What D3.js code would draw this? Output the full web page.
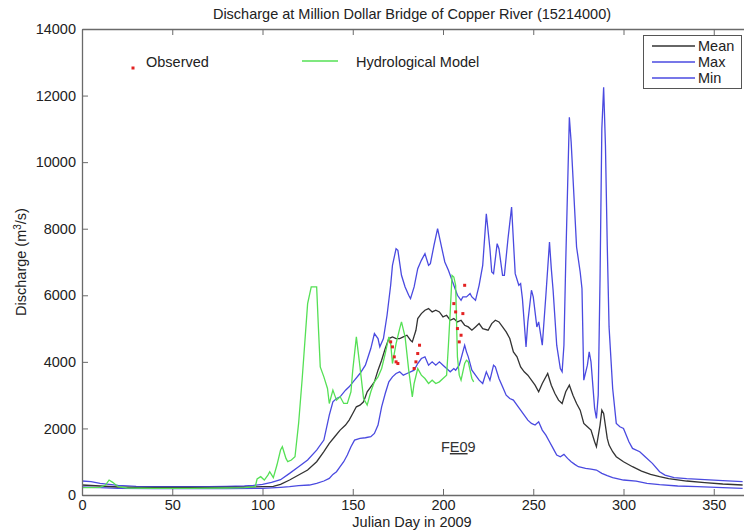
<!DOCTYPE html>
<html><head><meta charset="utf-8">
<script src="https://cdn.jsdelivr.net/npm/d3@7"></script>
<style>
body{margin:0;background:#fff;}
text{font-family:"Liberation Sans",Arial,sans-serif;}
</style></head>
<body>
<svg id="chart" width="744" height="531"></svg>
<script>
// ---- data ----
const xTicks = [0,50,100,150,200,250,300,350];
const yTicks = [0,2000,4000,6000,8000,10000,12000,14000];

const maxDays = [0,5,10,20,30,40,50,60,70,80,90,95,100,105,110,115,120,125,130,134,137,139,141,143,146,148,151,154,157,160,162,164,165,167,169,171,172,174,175,177,179,181,182,184,186,188,190,192,193,195,197,199,201,203,204,206,208,210,211,213,215,216,218,220,222,224,226,227,228,230,231,233,234,236,238,240,242,243,244,246,247,249,250,252,253,255,257,259,260,261,263,265,266,267,268,270,271,273,274,276,277,278,280,281,282,284,285,286,287,288,289,290,291,292,294,296,298,300,303,305,309,312,316,320,323,328,335,345,355,366];
const maxVals = [420,400,350,290,260,250,250,250,250,255,270,290,320,380,460,650,850,1050,1350,1650,2400,2800,2900,2950,3150,3250,3450,3650,3900,4400,4850,4700,4450,4700,5400,6300,6900,7400,7350,6600,6250,6000,5900,6250,6800,7050,7250,6900,6950,7500,8000,7500,7000,6750,6600,6300,6000,5850,5950,5950,6050,5950,5850,6300,6900,8450,7400,6700,6650,7550,7400,6600,6600,7700,8650,6650,6300,6350,5900,4450,5200,6150,5950,5050,5200,4500,6000,7600,6800,6150,4500,3800,3700,4500,7000,11350,10600,8500,7450,6700,6200,3450,3900,4300,4000,2600,2300,3000,6500,11000,12250,10500,7500,5050,3200,2150,2050,2000,1600,1400,1300,1150,950,700,600,520,490,460,430,400];

const meanDays = [0,10,20,30,50,70,90,100,106,110,115,120,125,130,134,137,140,143,146,148,150,152,154,156,158,160,162,164,166,168,170,172,174,176,178,180,182,183,185,186,188,190,192,194,196,198,200,202,204,206,208,210,212,214,216,218,220,222,225,227,229,231,233,235,237,239,241,243,245,247,249,251,253,255,258,260,262,264,266,268,270,272,274,276,278,280,282,284,285,287,288,289,291,292,294,296,300,305,310,315,320,325,335,345,355,366];
const meanVals = [300,270,240,230,225,225,235,250,260,320,450,600,750,1000,1300,1550,1750,1950,2100,2250,2450,2650,2700,2800,3100,3250,3400,3750,4050,4400,4700,4750,4700,4700,4750,4800,4650,4600,4950,5300,5450,5550,5600,5500,5550,5500,5350,5400,5250,5300,5200,5250,5100,5050,4950,5050,5150,5000,4950,5150,5250,5200,5050,4900,4700,4300,4150,3850,3700,3600,3450,3300,3100,3350,3650,3300,3050,2850,2750,3100,3300,3000,2750,2550,2150,2050,1950,1600,1450,2100,2550,2450,1700,1500,1300,1150,1000,850,720,620,550,490,420,370,330,300];

const minDays = [0,10,20,40,60,80,100,110,115,120,126,130,134,137,139,141,143,145,147,149,151,154,157,160,162,164,166,168,170,172,174,176,178,180,182,184,186,188,190,192,194,196,198,200,202,204,206,207,209,211,212,213,214,216,218,220,222,224,226,228,229,231,233,235,237,239,241,243,245,247,249,251,253,255,257,259,261,263,265,267,269,271,273,275,279,282,285,288,291,294,300,307,313,320,330,341,355,366];
const minVals = [240,220,200,190,190,195,200,230,250,280,300,350,420,500,620,700,850,1000,1200,1450,1650,1700,1720,1750,1850,2100,2650,3050,3400,3550,3650,3700,3600,3650,3700,3750,3950,4100,4150,3900,4000,3900,4000,3900,3800,3700,3800,3750,3900,4300,4500,4300,4150,3750,3600,3450,3350,3700,3450,3900,3850,3500,3250,3000,2900,2850,2700,2550,2400,2250,2150,2100,2200,1950,1800,1600,1400,1200,1150,1220,1100,1000,920,850,800,780,750,650,580,520,450,420,350,310,270,250,220,200];

const modelDays = [0,5,10,13,15,17,20,25,40,60,80,90,96,97,99,101,103,104,106,108,110,111,113,114,116,118,120,122,123,125,127,130,131,132,134,136,137,139,141,143,145,147,149,150,152,153,154,156,158,160,162,164,166,168,170,171,172,174,176,177,179,181,183,184,186,188,190,192,194,196,198,200,202,203,204,205,206,207,208,209,210,211,212,213,214,215,216,217];
const modelVals = [220,220,230,300,450,380,250,210,200,200,210,220,250,480,550,450,600,700,520,900,1350,1450,1100,1000,1050,1150,2150,3500,4250,5750,6250,6250,5000,3850,3550,3200,2750,3150,2850,2950,2750,2750,3100,3750,4750,4300,3850,2900,2700,3100,3400,3550,3800,4250,4750,4550,3950,4550,5000,5200,4750,3750,2950,3350,3800,3600,3500,3350,3450,3350,3400,3500,3600,4500,5500,6600,6550,6300,4150,3600,3450,3700,3950,4050,4000,3750,3500,3400];

const obsDays = [171,172,173,174,175,184,185,186,187,206,207,208,209,210,211,212];
const obsVals = [4600,4450,4150,4000,3950,3800,4000,4250,4500,5750,5500,5000,4600,4800,5450,6300];

// ---- layout ----
const svg = d3.select("#chart");
const X0 = 82, X1 = 82 + 370*1.805, Y0 = 495, Y1 = 29;
const x = d3.scaleLinear().domain([0,370]).range([X0,X1]);
const y = d3.scaleLinear().domain([0,14000]).range([Y0,Y1]);
const axisCol = "#6a6a6a";
const blue = "#4a4ae0", green = "#55e055", meanCol = "#333333", red = "#e32222";
const FS = "14.5px";

const pairs = (d,v) => d.map((dd,i)=>[dd,v[i]]);
const line = d3.line().x(d=>x(d[0])).y(d=>y(d[1]));

const g = svg.append("g");
g.append("path").datum(pairs(minDays,minVals)).attr("d",line).attr("fill","none").attr("stroke",blue).attr("stroke-width",1.3);
g.append("path").datum(pairs(maxDays,maxVals)).attr("d",line).attr("fill","none").attr("stroke",blue).attr("stroke-width",1.3);
g.append("path").datum(pairs(meanDays,meanVals)).attr("d",line).attr("fill","none").attr("stroke",meanCol).attr("stroke-width",1.3);
g.append("path").datum(pairs(modelDays,modelVals)).attr("d",line).attr("fill","none").attr("stroke",green).attr("stroke-width",1.3);
g.selectAll("rect.obs").data(pairs(obsDays,obsVals)).enter().append("rect").attr("class","obs")
  .attr("x",d=>x(d[0])-1.5).attr("y",d=>y(d[1])-1.5).attr("width",3).attr("height",3).attr("fill",red);

// axes
const axB = svg.append("g").attr("transform",`translate(0,${Y0})`)
  .call(d3.axisBottom(x).tickValues(xTicks).tickSizeInner(-6).tickSizeOuter(0).tickPadding(5));
const axL = svg.append("g").attr("transform",`translate(${X0},0)`)
  .call(d3.axisLeft(y).tickValues(yTicks).tickSizeInner(-6).tickSizeOuter(0).tickPadding(6).tickFormat(d3.format("d")));
const axT = svg.append("g").attr("transform",`translate(0,${Y1})`)
  .call(d3.axisTop(x).tickValues(xTicks).tickSizeInner(-6).tickSizeOuter(0).tickFormat(""));
[axB,axL,axT].forEach(a=>{
  a.selectAll("path.domain").attr("stroke",axisCol).attr("stroke-width",1.3);
  a.selectAll(".tick line").attr("stroke",axisCol);
  a.selectAll(".tick text").attr("fill","#222").style("font-size",FS).style("font-family","Liberation Sans, Arial, sans-serif");
});

// titles
svg.append("text").attr("x",412).attr("y",19).attr("text-anchor","middle").attr("fill","#222").style("font-size",FS)
  .text("Discharge at Million Dollar Bridge of Copper River (15214000)");
svg.append("text").attr("x",412).attr("y",527).attr("text-anchor","middle").attr("fill","#222").style("font-size",FS)
  .text("Julian Day in 2009");
const yl = svg.append("text").attr("transform","translate(26,262) rotate(-90)").attr("text-anchor","middle").attr("fill","#222").style("font-size",FS);
yl.append("tspan").text("Discharge (m");
yl.append("tspan").attr("dy",-5).style("font-size","10px").text("3");
yl.append("tspan").attr("dy",5).text("/s)");

// FE09 annotation
const fe = svg.append("text").attr("x",441).attr("y",452).attr("fill","#333").style("font-size",FS);
fe.append("tspan").text("F");
fe.append("tspan").style("text-decoration","underline").text("E0");
fe.append("tspan").text("9");

// left legend (no box)
svg.append("rect").attr("x",131.5).attr("y",66.5).attr("width",3).attr("height",3).attr("fill",red);
svg.append("text").attr("x",146).attr("y",67).attr("fill","#222").style("font-size",FS).text("Observed");
svg.append("line").attr("x1",302).attr("x2",338).attr("y1",61).attr("y2",61).attr("stroke",green).attr("stroke-width",1.3);
svg.append("text").attr("x",356).attr("y",67).attr("fill","#222").style("font-size",FS).text("Hydrological Model");

// right legend (boxed)
svg.append("rect").attr("x",643.5).attr("y",35.5).attr("width",98).attr("height",53).attr("fill","#fff").attr("stroke","#555").attr("stroke-width",1);
const legItems = [["Mean",meanCol],["Max",blue],["Min",blue]];
legItems.forEach((it,i)=>{
  const yy = 46 + i*16;
  svg.append("line").attr("x1",652).attr("x2",695).attr("y1",yy).attr("y2",yy).attr("stroke",it[1]).attr("stroke-width",1.3);
  svg.append("text").attr("x",698).attr("y",yy+5).attr("fill","#222").style("font-size",FS).text(it[0]);
});
</script>
</body></html>
